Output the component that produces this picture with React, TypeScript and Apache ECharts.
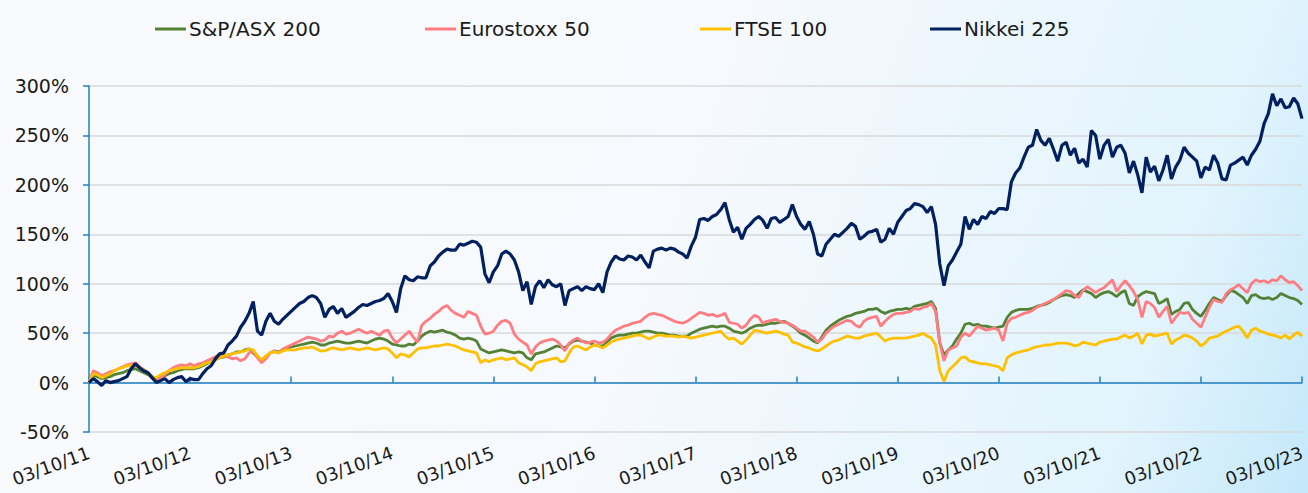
import React, { useEffect, useRef } from "react";
import * as echarts from "echarts";

// Half-monthly observations from 03/10/11 to 03/10/23 (index 0..288)
const seriesNames = ["S&P/ASX 200", "Eurostoxx 50", "FTSE 100", "Nikkei 225"];
const seriesColors = ["#548235", "#ff7c80", "#ffc000", "#002060"];
const legendLefts = [150, 420, 695, 925];

// cumulative performance, %
const asx200 = [
  0, 7, 6, 4, 5, 6, 8, 9, 10, 12, 13, 14, 12, 10, 8, 5, 4, 6, 7, 9, 10, 12, 13, 14, 14,
  14, 15, 17, 19, 21, 23, 25, 26, 28, 29, 31, 31, 33, 34, 30, 26, 22, 26, 30, 32, 31, 33, 35, 36,
  37, 38, 39, 40, 41, 40, 38, 38, 40, 41, 42, 41, 40, 40, 41, 42, 41, 40, 42, 44, 45, 44, 42, 39,
  38, 37, 37, 39, 38, 42, 47, 50, 52, 51, 52, 53, 51, 50, 48, 45, 44, 45, 44, 42, 34, 32, 30, 31,
  32, 33, 32, 31, 30, 31, 30, 25, 23, 29, 30, 31, 33, 35, 37, 36, 35, 39, 42, 43, 42, 41, 40, 38,
  37, 37, 41, 45, 47, 48, 48, 49, 50, 50, 51, 52, 52, 51, 50, 50, 49, 48, 48, 47, 47, 47, 50, 52,
  54, 55, 56, 57, 56, 57, 57, 55, 52, 51, 50, 52, 55, 57, 58, 58, 59, 60, 60, 61, 62, 60, 57, 54,
  50, 48, 45, 42, 40, 46, 53, 57, 60, 63, 65, 67, 68, 70, 71, 72, 74, 74, 75, 72, 70, 72, 73, 74,
  74, 75, 74, 77, 78, 79, 80, 82, 75, 40, 28, 33, 37, 44, 50, 59, 60, 58, 59, 57, 57, 56, 55, 56,
  57, 66, 71, 73, 74, 74, 74, 75, 77, 78, 79, 81, 84, 86, 88, 89, 88, 86, 90, 94, 92, 90, 86, 89,
  91, 92, 90, 87, 91, 93, 80, 78, 87, 90, 92, 91, 90, 80, 82, 85, 69, 72, 74, 80, 81, 74, 70, 67,
  73, 80, 86, 84, 82, 88, 93, 92, 89, 86, 80, 88, 89, 86, 85, 86, 84, 86, 90, 88, 86, 85, 83, 79,
];

const eurostoxx50 = [
  0, 12, 10, 7, 9, 11, 12, 14, 16, 18, 19, 20, 16, 13, 10, 4, 1, 5, 8, 12, 15, 17, 18, 17, 19,
  17, 19, 20, 22, 24, 26, 28, 27, 26, 24, 25, 22, 24, 30, 32, 25, 20, 24, 30, 32, 30, 34, 36, 38,
  40, 42, 44, 46, 45, 44, 42, 43, 47, 46, 50, 52, 49, 50, 52, 54, 52, 50, 52, 50, 48, 52, 53, 45,
  40, 44, 48, 52, 46, 41, 58, 62, 65, 69, 72, 76, 78, 73, 70, 68, 66, 72, 70, 68, 57, 49, 50, 52,
  58, 62, 63, 60, 49, 44, 41, 38, 29, 36, 40, 42, 43, 44, 42, 38, 32, 40, 43, 45, 42, 40, 41, 42,
  40, 41, 44, 49, 53, 55, 57, 58, 60, 61, 62, 66, 69, 70, 69, 68, 66, 64, 62, 61, 60, 62, 65, 68,
  71, 70, 68, 69, 67, 68, 70, 61, 60, 59, 55, 58, 64, 68, 66, 60, 62, 63, 64, 62, 61, 60, 58, 55,
  52, 52, 49, 46, 41, 44, 50, 54, 57, 59, 61, 63, 62, 58, 56, 62, 65, 66, 67, 57, 62, 66, 69, 70,
  70, 71, 72, 75, 74, 76, 77, 80, 72, 40, 22, 33, 35, 37, 46, 50, 47, 52, 57, 55, 53, 54, 55, 53,
  42, 60, 65, 66, 68, 70, 71, 73, 76, 78, 80, 82, 84, 87, 90, 93, 92, 88, 86, 93, 97, 94, 91, 94,
  96, 100, 104, 92, 98, 103, 98, 92, 84, 66, 82, 80, 76, 66, 72, 77, 60, 66, 71, 70, 71, 64, 60, 56,
  66, 76, 84, 82, 81, 90, 94, 96, 99, 95, 91, 100, 104, 102, 103, 101, 104, 103, 108, 104, 101, 102, 98, 93,
];

const ftse100 = [
  0, 9, 8, 5, 7, 9, 12, 14, 15, 17, 17, 17, 15, 13, 10, 6, 5, 8, 10, 12, 13, 14, 15, 15, 15,
  15, 16, 18, 20, 21, 23, 25, 27, 28, 29, 30, 31, 32, 34, 33, 27, 23, 27, 30, 31, 30, 32, 33, 33,
  33, 34, 35, 35, 36, 34, 32, 32, 34, 35, 34, 33, 34, 35, 34, 33, 34, 35, 34, 33, 34, 35, 34, 30,
  25, 29, 28, 26, 30, 34, 35, 35, 36, 37, 37, 38, 39, 38, 37, 35, 33, 32, 31, 30, 20, 23, 21, 23,
  24, 25, 23, 24, 25, 20, 18, 16, 12, 19, 21, 22, 23, 24, 25, 21, 22, 30, 36, 37, 35, 33, 36, 38,
  37, 35, 38, 41, 43, 44, 45, 46, 47, 48, 48, 46, 44, 46, 48, 48, 47, 47, 47, 46, 47, 46, 45, 46,
  47, 48, 49, 50, 51, 52, 47, 44, 45, 42, 39, 43, 48, 53, 52, 51, 50, 51, 52, 51, 49, 48, 41, 40,
  38, 36, 35, 33, 32, 34, 37, 40, 42, 43, 45, 47, 46, 45, 45, 47, 48, 49, 50, 46, 42, 44, 45, 45,
  45, 45, 46, 47, 48, 50, 47, 45, 38, 12, 1, 12, 16, 20, 25, 26, 22, 21, 20, 19, 19, 18, 17, 16,
  12, 25, 28, 30, 31, 32, 33, 35, 36, 37, 38, 38, 39, 40, 40, 40, 39, 37, 38, 41, 40, 39, 38, 41,
  42, 43, 44, 44, 46, 48, 45, 47, 50, 39, 48, 49, 47, 48, 49, 50, 39, 43, 45, 48, 47, 45, 42, 37,
  40, 45, 46, 47, 50, 52, 54, 56, 57, 52, 45, 53, 55, 52, 51, 49, 48, 47, 45, 48, 44, 48, 51, 47,
];

const nikkei225 = [
  0, 4, 1, -3, 2, 0, 1, 2, 4, 6, 14, 19, 15, 12, 10, 5, 0, 2, 4, 0, 3, 5, 6, 1, 4,
  3, 3, 9, 14, 17, 24, 29, 30, 38, 42, 47, 56, 62, 70, 82, 52, 48, 62, 70, 62, 59, 64, 68, 72,
  76, 80, 82, 86, 88, 86, 80, 66, 74, 77, 70, 75, 66, 69, 72, 76, 79, 78, 80, 82, 83, 85, 90, 82,
  71, 95, 108, 104, 103, 107, 106, 106, 118, 122, 128, 132, 135, 134, 134, 140, 139, 141, 143, 142, 137, 110, 101, 112,
  118, 130, 133, 130, 124, 112, 93, 102, 79, 97, 103, 96, 104, 99, 97, 100, 78, 93, 95, 97, 93, 97, 95, 94,
  100, 91, 112, 122, 128, 125, 124, 128, 127, 124, 129, 122, 116, 133, 135, 136, 134, 136, 135, 132, 130, 126, 138, 147,
  165, 166, 164, 168, 170, 175, 182, 165, 152, 157, 145, 156, 160, 165, 168, 164, 156, 166, 167, 162, 165, 168, 180, 168,
  160, 155, 163, 150, 130, 128, 140, 145, 150, 148, 152, 156, 161, 158, 145, 148, 152, 153, 155, 142, 145, 156, 150, 162,
  168, 174, 176, 181, 180, 178, 172, 178, 160, 120, 98, 118, 124, 132, 140, 168, 155, 165, 160, 168, 166, 173, 171, 176,
  176, 175, 203, 212, 217, 228, 238, 240, 256, 245, 240, 247, 236, 224, 240, 243, 230, 237, 222, 226, 218, 255, 250, 226,
  240, 246, 228, 238, 240, 232, 212, 224, 210, 192, 228, 213, 219, 204, 215, 230, 206, 218, 225, 238, 232, 228, 224, 207,
  218, 215, 230, 222, 206, 205, 220, 222, 225, 228, 220, 230, 236, 244, 262, 272, 292, 280, 287, 278, 279, 288, 282, 267,
];

const seriesData = [asx200, eurostoxx50, ftse100, nikkei225];

// y axis
const yMin = -50;
const yMax = 300;
const yStep = 50;

// category labels: 03/mm/yy and 18/mm/yy, every 24th one is 03/10/yy
const pad = (n: number) => (n < 10 ? "0" + n : "" + n);
const dates: string[] = [];
for (let i = 0; i < asx200.length; i++) {
  const m = 9 + Math.floor(i / 2);
  const year = 2011 + Math.floor(m / 12);
  const month = (m % 12) + 1;
  const day = i % 2 === 0 ? 3 : 18;
  dates.push(pad(day) + "/" + pad(month) + "/" + pad(year % 100));
}

const FONT = "DejaVu Sans";
const AXIS_BLUE = "#1f80c4";

export default function App() {
  const ref = useRef<HTMLDivElement>(null);

  useEffect(() => {
    if (!ref.current) return;
    const chart = echarts.init(ref.current, undefined, { renderer: "svg" });
    chart.setOption({
      animation: false,
      backgroundColor: "transparent",
      textStyle: { fontFamily: FONT },
      legend: seriesNames.map((name, k) => ({
        data: [name],
        left: legendLefts[k],
        top: 14,
        icon: "rect",
        itemWidth: 31,
        itemHeight: 3,
        itemGap: 0,
        textStyle: { fontFamily: FONT, fontSize: 20, color: "#1a1a1a", padding: [0, 0, 0, -2] },
      })),
      grid: { left: 89, right: 6, top: 86, bottom: 61, containLabel: false },
      xAxis: {
        type: "category",
        data: dates,
        boundaryGap: false,
        axisLine: { show: true, lineStyle: { color: AXIS_BLUE, width: 1.5 } },
        axisTick: { show: true, inside: true, interval: 23, length: 6, lineStyle: { color: AXIS_BLUE, width: 1.5 } },
        axisLabel: {
          interval: 23,
          rotate: 20,
          margin: 20,
          fontFamily: FONT,
          fontSize: 18,
          color: "#1a1a1a",
        },
        splitLine: { show: false },
      },
      yAxis: {
        type: "value",
        min: yMin,
        max: yMax,
        interval: yStep,
        axisLine: { show: true, lineStyle: { color: AXIS_BLUE, width: 1.5 } },
        axisTick: { show: true, length: 6, lineStyle: { color: AXIS_BLUE, width: 1.5 } },
        axisLabel: {
          formatter: (v: number) => v + "%",
          fontFamily: FONT,
          fontSize: 19,
          color: "#1a1a1a",
          margin: 20,
        },
        splitLine: { show: true, lineStyle: { color: "#d9d9d9", width: 1.5 } },
      },
      series: seriesNames.map((name, k) => ({
        name,
        type: "line",
        data: seriesData[k],
        showSymbol: false,
        symbol: "none",
        lineStyle: { color: seriesColors[k], width: k === 3 ? 3.2 : 2.8 },
        itemStyle: { color: seriesColors[k] },
        emphasis: { disabled: true },
      })),
    });
    return () => chart.dispose();
  }, []);

  return (
    <div
      style={{
        position: "fixed",
        left: 0,
        top: 0,
        width: 1308,
        height: 493,
        background:
          "linear-gradient(110deg, #f9fafc 0%, #f6f9fd 50%, #e2f4fd 86%, #c4e8fa 100%)",
      }}
    >
      <div ref={ref} style={{ width: 1308, height: 493 }} />
    </div>
  );
}
